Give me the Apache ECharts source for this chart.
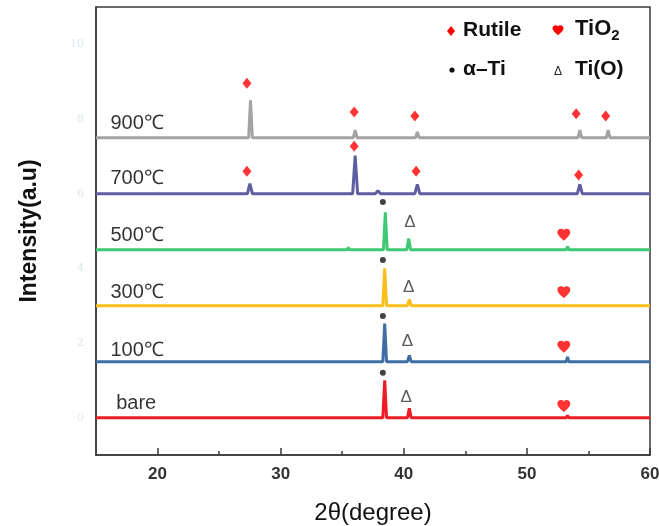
<!DOCTYPE html>
<html><head><meta charset="utf-8">
<script src="https://cdn.jsdelivr.net/npm/echarts@6/dist/echarts.min.js"></script>
<style>html,body{margin:0;padding:0;background:#fff}#c{width:659px;height:526px}</style>
</head><body><div id="c"></div>
<script>
// ---- data ----
const samples = ['bare', '100℃', '300℃', '500℃', '700℃', '900℃'];
const offsets = [0, 1.5, 3, 4.5, 6, 7.5];
const colors = ['#ee1c24', '#3e6ea3', '#fbbf1b', '#3ec873', '#5d5fa0', '#a3a3a3'];
// [2theta, intensity above own baseline]
const bare = [[15,0],[38.3,0],[38.45,1.0],[38.6,0],[40.3,0],[40.45,0.25],[40.6,0],[53.2,0],[53.3,0.06],[53.4,0],[60,0]];
const t100 = [[15,0],[35.3,0],[35.4,0.04],[35.5,0],[36.5,0],[36.6,0.04],[36.7,0],[38.3,0],[38.45,1.02],[38.6,0],[40.3,0],[40.45,0.17],[40.6,0],[53.2,0],[53.3,0.13],[53.4,0],[60,0]];
const t300 = [[15,0],[38.3,0],[38.45,1.0],[38.6,0],[40.3,0],[40.45,0.17],[40.6,0],[53.2,0],[53.3,0.05],[53.4,0],[60,0]];
const t500 = [[15,0],[35.4,0],[35.5,0.06],[35.6,0],[37.4,0],[37.5,0.04],[37.6,0],[38.35,0],[38.5,1.0],[38.65,0],[40.25,0],[40.4,0.3],[40.55,0],[53.2,0],[53.3,0.08],[53.4,0],[60,0]];
const t700 = [[15,0],[27.3,0],[27.5,0.27],[27.7,0],[35.85,0],[36.05,1.02],[36.25,0],[37.7,0],[37.9,0.08],[38.1,0],[40.9,0],[41.1,0.25],[41.3,0],[43.9,0],[44.0,0.05],[44.1,0],[54.1,0],[54.3,0.25],[54.5,0],[60,0]];
const t900 = [[15,0],[25.6,0],[25.7,0.04],[25.8,0],[27.4,0],[27.55,1.0],[27.7,0],[35.9,0],[36.05,0.2],[36.2,0],[38.9,0],[39.0,0.03],[39.1,0],[40.95,0],[41.1,0.15],[41.25,0],[43.4,0],[43.5,0.03],[43.6,0],[54.15,0],[54.3,0.2],[54.45,0],[56.45,0],[56.6,0.2],[56.75,0],[60,0]];
const patterns = [bare, t100, t300, t500, t700, t900];
// phase markers [2theta, intensity]
const rutileMarks = [[27.26,8.96],[35.97,8.19],[40.9,8.08],[54.0,8.14],[56.4,8.08],[27.26,6.6],[35.97,7.27],[41.0,6.6],[54.2,6.5]];
const alphaTiMarks = [[38.3,5.78],[38.3,4.22],[38.3,2.72],[38.3,1.2]];
const tiOMarks = [[40.5,5.23],[40.4,3.49],[40.3,2.05],[40.2,0.55]];
const tio2Marks = [[53.0,4.9],[53.0,3.36],[53.0,1.9],[53.0,0.31]];
const xTicks = [20, 30, 40, 50, 60];
const xMinorTicks = [25, 35, 45, 55];
const yTicks = [0, 2, 4, 6, 8, 10];
// label anchors [2theta, intensity]
const labelPos = [[16.6,0.39],[16.13,1.81],[16.13,3.34],[16.13,4.89],[16.13,6.42],[16.13,7.89]];

const heartPath = 'M12,21.35l-1.45-1.32C5.4,15.36,2,12.28,2,8.5C2,5.42,4.42,3,7.5,3c1.74,0,3.41,0.81,4.5,2.09C13.09,3.81,14.76,3,16.5,3C19.58,3,22,5.42,22,8.5c0,3.78-3.4,6.86-8.55,11.54L12,21.35z';
const heart = 'path://' + heartPath;
const FONT = 'Liberation Sans, Arial, sans-serif';

try {
  echarts.graphic.registerShape('heartShape', echarts.graphic.extendPath(heartPath, {}));
} catch (e) {}

const series = [];
patterns.forEach((p, i) => {
  series.push({
    type: 'line', data: p.map(d => [d[0], d[1] + offsets[i]]),
    showSymbol: false, symbol: 'none', lineStyle: {color: colors[i], width: 3}, z: 2, animation: false
  });
});
series.push({type:'scatter', data: rutileMarks, symbol:'diamond', symbolSize:[9,11], itemStyle:{color:'#ff0000'}, z:5, animation:false});
series.push({type:'scatter', data: alphaTiMarks, symbol:'circle', symbolSize:6, itemStyle:{color:'#111'}, z:5, animation:false});
series.push({type:'scatter', data: tio2Marks, symbol:heart, symbolSize:[13,12], itemStyle:{color:'#ff0000'}, z:5, animation:false});
series.push({type:'scatter', data: tiOMarks, symbol:'circle', symbolSize:1, itemStyle:{color:'transparent'},
  label:{show:true, position:'inside', formatter:'Δ', fontFamily:FONT, fontSize:17, color:'#333'}, z:5, animation:false});
series.push({type:'scatter', data: labelPos.map((d,i)=>({value:d, name:samples[i]})), symbol:'circle', symbolSize:1, itemStyle:{color:'transparent'},
  label:{show:true, position:'right', distance:0, formatter:p=>p.name, fontFamily:FONT, fontSize:20, color:'#000'}, z:5, animation:false});

const chart = echarts.init(document.getElementById('c'), null, {renderer:'canvas'});
chart.setOption({
  backgroundColor:'#fff',
  animation:false,
  grid:{left:96, right:9, top:7, bottom:71, outerBoundsMode:'none', containLabel:false, show:true, borderColor:'#3a3a3a', borderWidth:1.5},
  xAxis:[{
    type:'value', min:15, max:60, interval:5,
    axisLine:{onZero:false, lineStyle:{color:'#3a3a3a', width:1.5}},
    axisTick:{show:true, inside:true, length:7, customValues:xTicks, lineStyle:{color:'#3a3a3a', width:1.5}},
    axisLabel:{customValues:xTicks, fontFamily:FONT, fontWeight:'bold', fontSize:17, color:'#333', margin:11, hideOverlap:false},
    splitLine:{show:false},
    name:'2θ(degree)', nameLocation:'middle', nameGap:46,
    nameTextStyle:{fontFamily:FONT, fontSize:24, color:'#111'}
  },{
    type:'value', min:15, max:60, position:'bottom', offset:0,
    axisLine:{show:false, onZero:false},
    axisTick:{show:true, inside:true, length:4, customValues:xMinorTicks, lineStyle:{color:'#3a3a3a', width:1.5}},
    axisLabel:{show:false}, splitLine:{show:false}
  }],
  yAxis:{
    type:'value', min:-1, max:11, interval:1,
    axisLine:{show:true, onZero:false, lineStyle:{color:'#3a3a3a', width:1.5}},
    axisTick:{show:false},
    axisLabel:{customValues:yTicks, fontFamily:'DejaVu Serif, serif', fontSize:11, color:'#dbe9ec', margin:12},
    splitLine:{show:false},
    name:'Intensity(a.u)', nameLocation:'middle', nameGap:55, nameRotate:90,
    nameTextStyle:{fontFamily:FONT, fontWeight:'bold', fontSize:23, color:'#111'}
  },
  graphic:[
    {type:'polygon', shape:{points:[[451,26],[455,31],[451,36],[447,31]]}, style:{fill:'#ff0000'}},
    {type:'text', x:463, y:30, style:{text:'Rutile', font:'bold 21px '+FONT, fill:'#111', textVerticalAlign:'middle'}},
    {type:'heartShape', x:551.4, y:23.5, scaleX:0.55, scaleY:0.55, style:{fill:'#ff0000'}},
    {type:'text', x:575, y:29, style:{text:'{a|TiO}{b|2}', rich:{a:{font:'bold 22px '+FONT, fill:'#111'}, b:{font:'bold 15px '+FONT, fill:'#111', padding:[14,0,0,0]}}, textVerticalAlign:'middle'}},
    {type:'circle', shape:{cx:452, cy:70, r:2.6}, style:{fill:'#111'}},
    {type:'text', x:463, y:69, style:{text:'α–Ti', font:'bold 21px '+FONT, fill:'#111', textVerticalAlign:'middle'}},
    {type:'text', x:558, y:72, style:{text:'Δ', font:'12px '+FONT, fill:'#222', textAlign:'center', textVerticalAlign:'middle'}},
    {type:'text', x:575, y:69, style:{text:'Ti(O)', font:'bold 21px '+FONT, fill:'#111', textVerticalAlign:'middle'}}
  ],
  series: series
});
</script></body></html>
